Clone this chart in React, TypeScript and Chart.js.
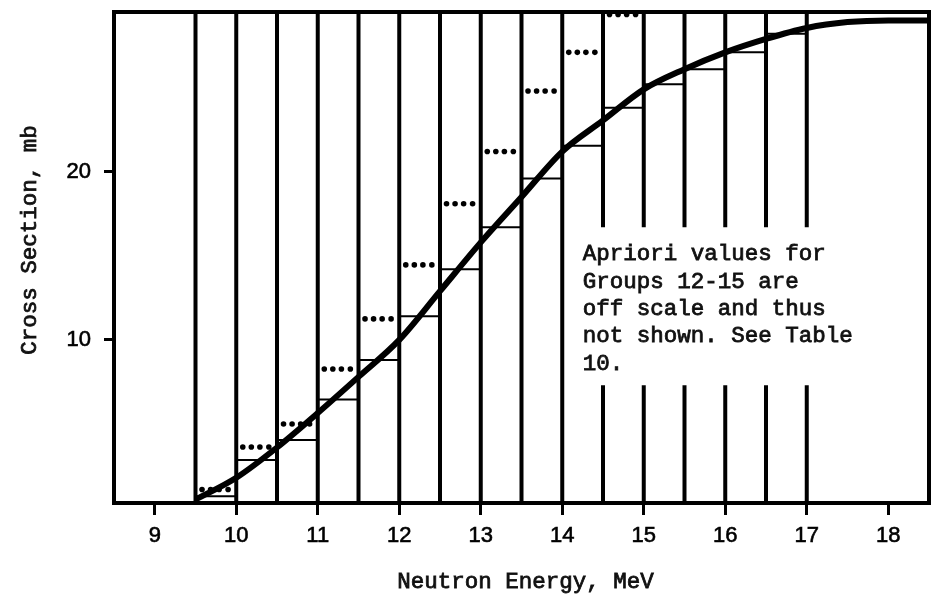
import React, { useEffect, useRef } from "react";
import { Chart, registerables } from "chart.js";

Chart.register(...registerables);

// Group boundaries (MeV)
const groupEdges = [9.5, 10.0, 10.5, 11.0, 11.5, 12.0, 12.5, 13.0, 13.5, 14.0, 14.5, 15.0, 15.5, 16.0, 16.5, 17.0];
// Adjusted group cross sections (thin horizontal lines), mb
const adjustedValues = [0.7, 2.86, 4.05, 6.45, 8.8, 11.4, 14.2, 16.7, 19.6, 21.55, 23.8, 25.2, 26.1, 27.1, 28.2];
// Apriori group cross sections (dotted), mb; null = off scale
const aprioriValues: (number | null)[] = [1.1, 3.63, 5.0, 8.27, 11.25, 14.46, 18.1, 21.2, 24.8, 27.1, 29.35, null, null, null, null];
// Where the dots of an apriori marker sit inside its group (fraction of group width)
const dotFractions = [0.16, 0.37, 0.58, 0.8];
// Smooth evaluated curve
const curveEnergy = [9.5, 10.0, 10.5, 11.0, 11.5, 12.0, 12.5, 13.0, 13.5, 14.0, 14.5, 15.0, 15.5, 16.0, 16.5, 17.0, 17.5, 18.0, 18.5];
const curveValue = [0.5, 1.8, 3.6, 5.65, 7.8, 10.0, 12.9, 15.8, 18.5, 21.2, 23.05, 24.9, 26.1, 27.1, 27.9, 28.55, 28.9, 29.0, 29.0];
// Axes
const xMin = 8.5;
const xMax = 18.5;
const yMin = 0.3;
const yMax = 29.5;
const xTicks = [9, 10, 11, 12, 13, 14, 15, 16, 17, 18];
const yTicks = [10, 20];
// Lines for these edges are interrupted around the note
const gapFromEnergy = 14.5;
const gapLow = 7.3;
const gapHigh = 16.7;
// Texts
const xTitle = "Neutron Energy, MeV";
const yTitle = "Cross Section, mb";
const noteLines = ["Apriori values for", "Groups 12-15 are", "off scale and thus", "not shown. See Table", "10."];
const noteAnchor = { x: 14.25, y: 14.73 };

type P = { x: number; y: number | null };

function buildVertical(): P[] {
  const out: P[] = [];
  groupEdges.forEach((e) => {
    if (e >= gapFromEnergy) {
      out.push({ x: e, y: yMin }, { x: e, y: gapLow }, { x: e, y: null }, { x: e, y: gapHigh }, { x: e, y: yMax }, { x: e, y: null });
    } else {
      out.push({ x: e, y: yMin }, { x: e, y: yMax }, { x: e, y: null });
    }
  });
  return out;
}

function buildAdjusted(): P[] {
  const out: P[] = [];
  adjustedValues.forEach((v, i) => {
    out.push({ x: groupEdges[i], y: v }, { x: groupEdges[i + 1], y: v }, { x: groupEdges[i + 1], y: null });
  });
  return out;
}

function buildApriori(): P[] {
  const out: P[] = [];
  aprioriValues.forEach((v, i) => {
    if (v === null) return;
    const a = groupEdges[i];
    const w = groupEdges[i + 1] - a;
    dotFractions.forEach((f) => out.push({ x: a + w * f, y: v }));
  });
  return out;
}

const mono = "'Liberation Mono', 'Courier New', monospace";

const decorPlugin = {
  id: "decor",
  afterDraw(chart: any) {
    const { ctx, chartArea } = chart;
    const xs = chart.scales.x;
    const ys = chart.scales.y;
    ctx.save();
    // frame
    ctx.strokeStyle = "#000";
    ctx.lineWidth = 4;
    ctx.strokeRect(chartArea.left, chartArea.top, chartArea.right - chartArea.left, chartArea.bottom - chartArea.top);
    // texts
    ctx.fillStyle = "#111";
    ctx.strokeStyle = "#111";
    ctx.lineWidth = 0.8;
    ctx.font = `22.5px ${mono}`;
    ctx.textAlign = "left";
    ctx.textBaseline = "alphabetic";
    const put = (t: string, x: number, y: number) => {
      ctx.fillText(t, x, y);
      ctx.strokeText(t, x, y);
    };
    const nx = xs.getPixelForValue(noteAnchor.x);
    const ny = ys.getPixelForValue(noteAnchor.y);
    noteLines.forEach((t, i) => put(t, nx, ny + i * 27.3));
    // x title
    ctx.textAlign = "center";
    put(xTitle, (chartArea.left + chartArea.right) / 2 + 4, 588);
    // y title
    ctx.translate(36, 240);
    ctx.rotate(-Math.PI / 2);
    ctx.textAlign = "center";
    put(yTitle, 0, 0);
    ctx.restore();
  },
};

export default function App() {
  const ref = useRef<HTMLCanvasElement | null>(null);
  useEffect(() => {
    if (!ref.current) return;
    const chart = new Chart(ref.current, {
      type: "line",
      data: {
        datasets: [
          {
            data: curveEnergy.map((x, i) => ({ x, y: curveValue[i] })),
            borderColor: "#000",
            borderWidth: 6,
            pointRadius: 0,
            cubicInterpolationMode: "monotone",
            order: 0,
            clip: false,
          } as any,
          {
            data: buildApriori(),
            showLine: false,
            pointRadius: 2.8,
            pointStyle: "circle",
            pointBackgroundColor: "#000",
            pointBorderColor: "#000",
            pointBorderWidth: 0,
            order: 1,
            clip: false,
          } as any,
          {
            data: buildAdjusted(),
            borderColor: "#000",
            borderWidth: 2,
            pointRadius: 0,
            spanGaps: false,
            order: 2,
          } as any,
          {
            data: buildVertical(),
            borderColor: "#000",
            borderWidth: 4,
            pointRadius: 0,
            spanGaps: false,
            order: 3,
            clip: false,
          } as any,
        ],
      },
      options: {
        responsive: false,
        animation: false,
        events: [],
        layout: { padding: { top: 12, right: 3, left: 0, bottom: 0 } },
        plugins: { legend: { display: false }, tooltip: { enabled: false }, title: { display: false } },
        scales: {
          x: {
            type: "linear",
            min: xMin,
            max: xMax,
            afterFit: (s: any) => {
              s.height = 93;
              s.paddingLeft = 0;
              s.paddingRight = 0;
            },
            afterBuildTicks: (s: any) => {
              s.ticks = xTicks.map((v) => ({ value: v }));
            },
            grid: { display: true, drawOnChartArea: false, drawTicks: true, tickLength: 12, tickWidth: 3, tickColor: "#000" },
            border: { display: true, width: 4, color: "#000" },
            ticks: {
              color: "#000",
              textStrokeColor: "#000",
              textStrokeWidth: 0.6,
              font: { family: "'Liberation Sans', Arial, sans-serif", size: 22 },
              padding: 8,
              maxRotation: 0,
              autoSkip: false,
              callback: (v: any) => String(v),
            },
          },
          y: {
            type: "linear",
            min: yMin,
            max: yMax,
            afterFit: (s: any) => {
              s.width = 114;
              s.paddingTop = 0;
              s.paddingBottom = 0;
            },
            afterBuildTicks: (s: any) => {
              s.ticks = yTicks.map((v) => ({ value: v }));
            },
            grid: { display: true, drawOnChartArea: false, drawTicks: true, tickLength: 10, tickWidth: 3, tickColor: "#000" },
            border: { display: true, width: 4, color: "#000" },
            ticks: {
              color: "#000",
              textStrokeColor: "#000",
              textStrokeWidth: 0.6,
              font: { family: "'Liberation Sans', Arial, sans-serif", size: 22 },
              padding: 13,
              autoSkip: false,
              callback: (v: any) => String(v),
            },
          },
        },
      },
      plugins: [decorPlugin],
    } as any);
    return () => chart.destroy();
  }, []);
  return (
    <div style={{ position: "absolute", left: 0, top: 0, width: 933, height: 596, background: "#fff" }}>
      <canvas ref={ref} width={933} height={596} style={{ display: "block" }} />
    </div>
  );
}
